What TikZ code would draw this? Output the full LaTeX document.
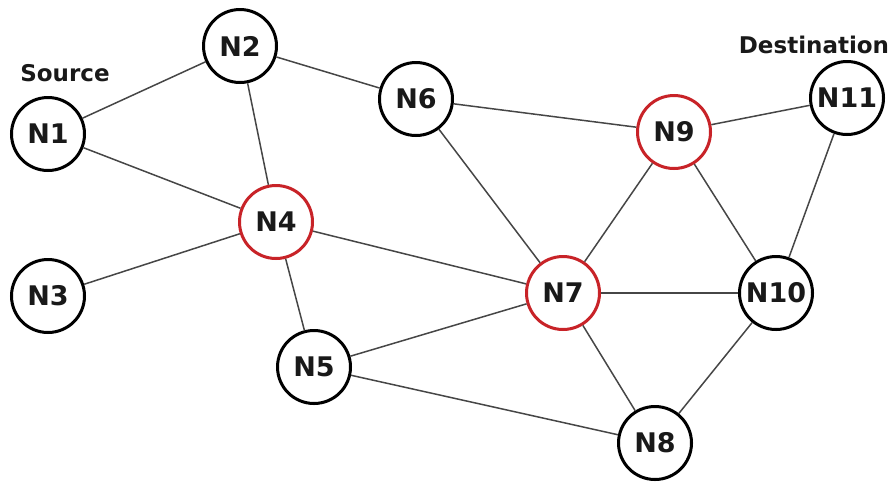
\documentclass[tikz,border=0pt]{standalone}
\usepackage{fontspec}
\setmainfont{DejaVu Sans}
\definecolor{nodered}{RGB}{200,35,40}
\definecolor{edgegray}{RGB}{70,70,70}
\definecolor{txt}{RGB}{25,25,25}
\begin{document}
\begin{tikzpicture}[x=1pt,y=-1pt,
  nd/.style={circle,draw=black,line width=3pt,fill=white,minimum size=73pt,inner sep=0pt,
    font=\fontsize{27}{30}\selectfont\bfseries,text=txt},
  hot/.style={nd,draw=nodered},
  lbl/.style={font=\fontsize{23}{26}\selectfont\bfseries,text=txt,inner sep=0pt},
  edge/.style={draw=edgegray,line width=1.5pt}]
\useasboundingbox (0,0) rectangle (890,483);
\node[nd]  (n1)  at (48,134)  {N1};
\node[nd]  (n2)  at (240,46)  {N2};
\node[nd]  (n3)  at (48,296)  {N3};
\node[hot] (n4)  at (276,222) {N4};
\node[nd]  (n5)  at (314,367) {N5};
\node[nd]  (n6)  at (416,99)  {N6};
\node[hot] (n7)  at (563,293) {N7};
\node[nd]  (n8)  at (655,443) {N8};
\node[hot] (n9)  at (674,132) {N9};
\node[nd]  (n10) at (776,293) {N10};
\node[nd]  (n11) at (847,98)  {N11};
\node[lbl] (src) at (65,73) {Source};
\node[lbl] (dst) at (814,45) {Destination};
\path[edge] (n1) -- (n2);
\path[edge] (n1) -- (n4);
\path[edge] (n2) -- (n4);
\path[edge] (n2) -- (n6);
\path[edge] (n3) -- (n4);
\path[edge] (n4) -- (n7);
\path[edge] (n4) -- (n5);
\path[edge] (n5) -- (n7);
\path[edge] (n5) -- (n8);
\path[edge] (n6) -- (n9);
\path[edge] (n6) -- (n7);
\path[edge] (n7) -- (n9);
\path[edge] (n7) -- (n10);
\path[edge] (n7) -- (n8);
\path[edge] (n8) -- (n10);
\path[edge] (n9) -- (n10);
\path[edge] (n9) -- (n11);
\path[edge] (n11) -- (n10);
\end{tikzpicture}
\end{document}
